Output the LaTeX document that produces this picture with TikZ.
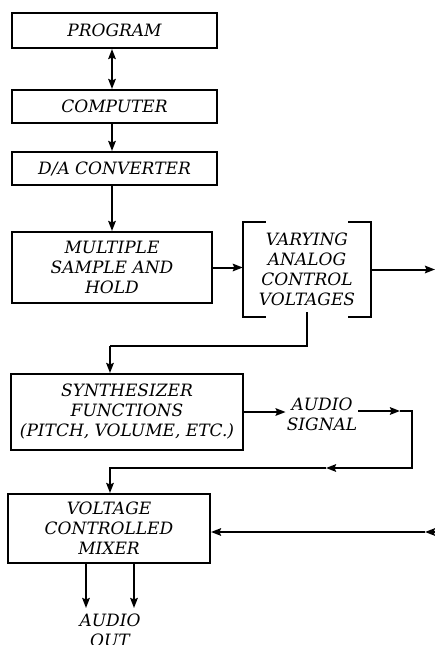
\documentclass[tikz,border=0pt]{standalone}
\usepackage{fontspec}
\setmainfont{DejaVu Serif}
\usetikzlibrary{arrows.meta}
\begin{document}
\begin{tikzpicture}[x=1pt,y=-1pt,>={Stealth[length=10pt,width=7.5pt,inset=1.5pt]},
  blk/.style={draw,line width=2pt,inner sep=0pt,align=center,
    font=\fontsize{17}{20}\selectfont\itshape},
  lbl/.style={inner sep=1pt,align=center,font=\fontsize{17}{20}\selectfont\itshape},
  ln/.style={line width=2pt},
  arr/.style={->,line width=2pt}]
  \useasboundingbox (0,0) rectangle (435,645);
  % boxes
  \node[blk,minimum width=205pt,minimum height=35pt] (prog) at (114.5,30.5) {PROGRAM};
  \node[blk,minimum width=205pt,minimum height=33pt] (comp) at (114.5,106.5) {COMPUTER};
  \node[blk,minimum width=205pt,minimum height=33pt] (dac) at (114.5,168.5) {D/A CONVERTER};
  \node[blk,minimum width=200pt,minimum height=71pt] (snh) at (112,267.5)
    {MULTIPLE\\SAMPLE AND\\HOLD};
  \node[lbl,minimum width=128pt,minimum height=95pt] (cv) at (307,269.5)
    {VARYING\\ANALOG\\CONTROL\\VOLTAGES};
  \node[blk,minimum width=232pt,minimum height=76pt] (synth) at (127,412)
    {SYNTHESIZER\\FUNCTIONS\\(PITCH, VOLUME, ETC.)};
  \node[lbl] (audio) at (322,414) {AUDIO\\SIGNAL};
  \node[blk,minimum width=202pt,minimum height=69pt] (mixer) at (109,528.5)
    {VOLTAGE\\CONTROLLED\\MIXER};
  \node[lbl] (out) at (110,630) {AUDIO\\OUT};
  % brackets round the control voltages
  \draw[ln] ([xshift=23pt]cv.north west) -- (cv.north west) -- (cv.south west) -- ++(23,0);
  \draw[ln] ([xshift=-23pt]cv.north east) -- (cv.north east) -- (cv.south east) -- ++(-23,0);
  % turning points
  \coordinate (cvout) at (435,269.5);
  \coordinate (j1) at (110,346);
  \coordinate (a1) at (400,411);
  \coordinate (a2) at (412,468);
  \coordinate (a3) at (326,468);
  \coordinate (a4) at (110,468);
  \coordinate (vin) at (440,532);
  \coordinate (vmid) at (425,532);
  % connectors
  \draw[arr,<->] (prog.south -| snh.north) -- (comp.north -| snh.north);
  \draw[arr] (comp.south -| snh.north) -- (dac.north -| snh.north);
  \draw[arr] (dac.south -| snh.north) -- (snh.north);
  \draw[arr] (snh.east) -- (snh.east -| cv.west);
  \draw[arr] (cv.east) -- (cvout);
  \draw[ln] ([yshift=5pt]cv.south) |- (j1);
  \draw[arr] (j1) -- (j1 |- synth.north);
  \draw[arr] (synth.east) -- (synth.east -| audio.west);
  \draw[arr] (audio.east |- a1) -- (a1);
  \draw[arr] (a1) -| (a2) -- (a3);
  \draw[arr] (a3) -- (a4) -- (a4 |- mixer.north);
  \draw[arr] (vin) -- (vmid);
  \draw[arr] (vmid) -- (vmid -| mixer.east);
  \draw[arr] ([xshift=-23pt]mixer.south) -- ++(0,44);
  \draw[arr] ([xshift=25pt]mixer.south) -- ++(0,44);
\end{tikzpicture}
\end{document}
